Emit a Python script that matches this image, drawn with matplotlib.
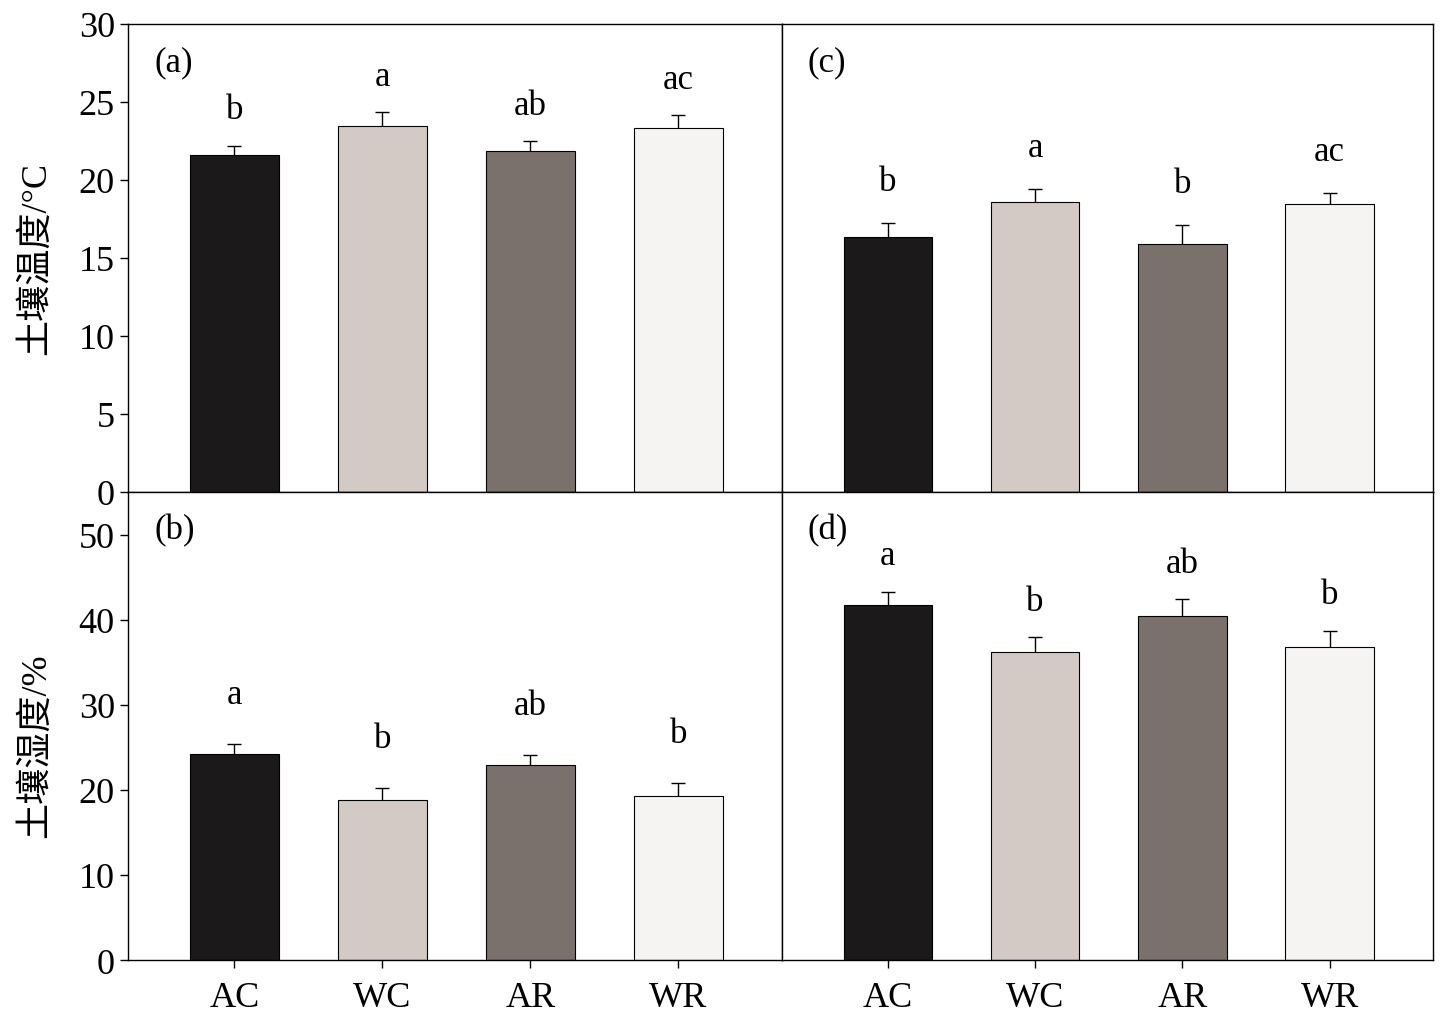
import numpy as np
import matplotlib
matplotlib.use("Agg")
import matplotlib.pyplot as plt

plt.rcParams['font.family'] = ['Liberation Serif', 'Noto Sans CJK SC']

treatments = ['AC', 'WC', 'AR', 'WR']
bar_colors = ['#1b1919', '#d4cac5', '#7b716c', '#f5f4f2']

# soil temperature (panel a, c) and soil moisture (panel b, d)
temp_a = [21.6, 23.45, 21.85, 23.35]
temp_a_err = [0.6, 0.9, 0.65, 0.8]
temp_a_sig = ['b', 'a', 'ab', 'ac']

temp_c = [16.35, 18.6, 15.9, 18.45]
temp_c_err = [0.9, 0.8, 1.2, 0.7]
temp_c_sig = ['b', 'a', 'b', 'ac']

moist_b = [24.2, 18.8, 22.9, 19.3]
moist_b_err = [1.2, 1.4, 1.2, 1.5]
moist_b_sig = ['a', 'b', 'ab', 'b']

moist_d = [41.7, 36.2, 40.4, 36.8]
moist_d_err = [1.6, 1.7, 2.0, 1.9]
moist_d_sig = ['a', 'b', 'ab', 'b']

fig = plt.figure(figsize=(14.56, 10.2), dpi=100)
L, M, R = 0.0879, 0.537, 0.984
B, H, T = 0.0578, 0.5167, 0.9755
ax_a = fig.add_axes([L, H, M - L, T - H])
ax_c = fig.add_axes([M, H, R - M, T - H])
ax_b = fig.add_axes([L, B, M - L, H - B])
ax_d = fig.add_axes([M, B, R - M, H - B])

x = np.arange(len(treatments))


def draw_panel(ax, vals, errs, sig, label, ymax, gap):
    ax.errorbar(x, vals, yerr=errs, fmt='none', ecolor='black', elinewidth=1.0,
                capsize=5, capthick=1.0, zorder=1)
    ax.bar(x, vals, width=0.6, color=bar_colors, edgecolor='black',
           linewidth=0.8, zorder=2)
    for xi, v, e, s in zip(x, vals, errs, sig):
        ax.annotate(s, (xi, v + e), xytext=(0, gap), textcoords='offset points',
                    ha='center', va='bottom', fontsize=25)
    ax.text(0.04, 0.92, label, transform=ax.transAxes, fontsize=25,
            ha='left', va='center')
    ax.set_xlim(-0.72, 3.70)
    ax.set_ylim(0, ymax)
    for sp in ax.spines.values():
        sp.set_linewidth(1.0)
    ax.tick_params(direction='out', length=6, width=1.0, labelsize=26)


draw_panel(ax_a, temp_a, temp_a_err, temp_a_sig, '(a)', 30, 14)
draw_panel(ax_c, temp_c, temp_c_err, temp_c_sig, '(c)', 30, 18)
draw_panel(ax_b, moist_b, moist_b_err, moist_b_sig, '(b)', 55, 24)
draw_panel(ax_d, moist_d, moist_d_err, moist_d_sig, '(d)', 55, 14)

ax_a.set_yticks(np.arange(0, 31, 5))
ax_b.set_yticks(np.arange(0, 51, 10))
for ax in (ax_c, ax_d):
    ax.set_yticks([])
for ax in (ax_a, ax_c):
    ax.set_xticks([])
for ax in (ax_b, ax_d):
    ax.set_xticks(x)
    ax.set_xticklabels(treatments)
    ax.tick_params(axis='x', pad=9)

ax_a.set_ylabel('土壤温度/°C', fontsize=26)
ax_b.set_ylabel('土壤湿度/%', fontsize=26)
ax_a.yaxis.set_label_coords(-0.115, 0.5)
ax_b.yaxis.set_label_coords(-0.115, 0.46)

fig.savefig('out.png', dpi=100)
